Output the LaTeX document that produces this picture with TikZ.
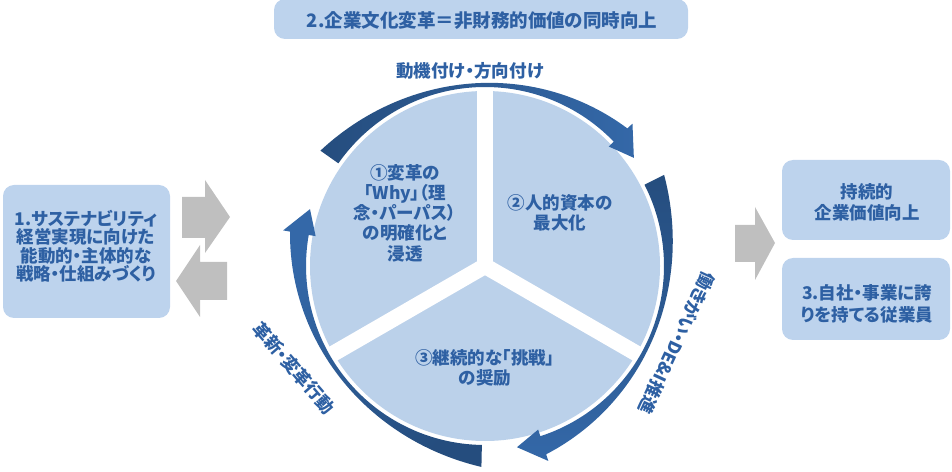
\documentclass[tikz,border=0pt]{standalone}
\usepackage{fontspec}
\setmainfont{Noto Sans CJK JP}[RawFeature={+palt}]
\definecolor{boxblue}{RGB}{189,211,237}
\definecolor{pieblue}{RGB}{187,209,234}
\definecolor{txtblue}{RGB}{46,96,163}
\definecolor{arrdark}{RGB}{37,77,126}
\definecolor{arrlight}{RGB}{52,104,168}
\definecolor{arrgray}{RGB}{191,191,191}
\newcommand{\bandarrow}[3]{%
  \pgfmathsetmacro{\myspan}{#1-(#2)}%
  \shade[#3] plot[domain=0:1,samples=61] ({#1-\myspan*\x}:179)
   -- ({#2}:172) -- ({#2-8}:184) -- ({#2}:205)
   -- plot[domain=0:1,samples=61] ({#2+\myspan*\x}:{183+(2*\x-1)*(2*\x-1)*(15+3*\x)}) -- cycle;}
\begin{document}
\begin{tikzpicture}[x=1pt,y=1pt,
  txt/.style={text=txtblue,font=\bfseries\fontsize{17.5}{18.5}\selectfont,align=center,inner sep=0pt},
  pietxt/.style={txt,font=\bfseries\fontsize{17.5}{20.3}\selectfont},
  boxnode/.style={fill=boxblue,rounded corners=11pt,inner sep=0pt},
  grayarrow/.style={fill=arrgray}]
\useasboundingbox (0,0) rectangle (952,471);

% boxes
\node[boxnode,minimum width=414pt,minimum height=40pt] (topbox) at (481,452) {};
\node[txt,font=\bfseries\fontsize{18.5}{20}\selectfont] (toptxt) at (482,450) {2.企業文化変革＝非財務的価値の同時向上};

\node[boxnode,minimum width=167pt,minimum height=133pt] (lbox) at (86.5,219.5) {};
\node[txt] (ltxt) at (86,225) {1.サステナビリティ\\経営実現に向けた\\能動的・主体的な\\戦略・仕組みづくり};

\node[boxnode,minimum width=168pt,minimum height=80pt] (rbox1) at (866,271) {};
\node[txt,font=\bfseries\fontsize{17.5}{21}\selectfont] (rtxt1) at (867,268.5) {持続的\\企業価値向上};
\node[boxnode,minimum width=168pt,minimum height=82pt] (rbox2) at (866,172) {};
\node[txt,font=\bfseries\fontsize{17.5}{22}\selectfont] (rtxt2) at (867,167) {3.自社・事業に誇\\りを持てる従業員};

% gray arrows
\fill[grayarrow] (182,233) -- (205,233) -- (205,218) -- (230,254) -- (205,291) -- (205,274) -- (182,274) -- cycle;
\fill[grayarrow] (227,171) -- (200,171) -- (200,154) -- (176,190) -- (200,226) -- (200,209) -- (227,209) -- cycle;
\fill[grayarrow] (735,209) -- (755,209) -- (755,191) -- (775,228) -- (755,264) -- (755,246) -- (735,246) -- cycle;

% pie
\coordinate (C) at (485,205);
\fill[pieblue] (C) circle[radius=175];
\foreach \a in {90,210,330} \draw[white,line width=16pt] (C) -- ++(\a:182);

% curved arrows
\begin{scope}[shift={(485,205)}]
\bandarrow{145}{44}{left color=arrdark,right color=arrlight}
\bandarrow{27}{-72}{top color=arrdark,bottom color=arrlight}
\bandarrow{269}{170}{top color=arrlight,bottom color=arrdark,shading angle=45}
\end{scope}

% pie texts
\node[pietxt] (p1) at (405,258) {①変革の\\「Why」（理\\念・パーパス）\\の明確化と\\浸透};
\node[pietxt] (p2) at (560,258) {②人的資本の\\最大化};
\node[pietxt] (p3) at (485,103) {③継続的な「挑戦」\\の奨励};

% arrow labels
\node[txt] (l1) at (470,400) {動機付け・方向付け};
\node[txt,rotate=-115] (l2) at (677,128) {働きがい・DE\&I推進};
\node[txt,rotate=-49] (l3) at (294,103) {革新・変革行動};
\end{tikzpicture}
\end{document}
